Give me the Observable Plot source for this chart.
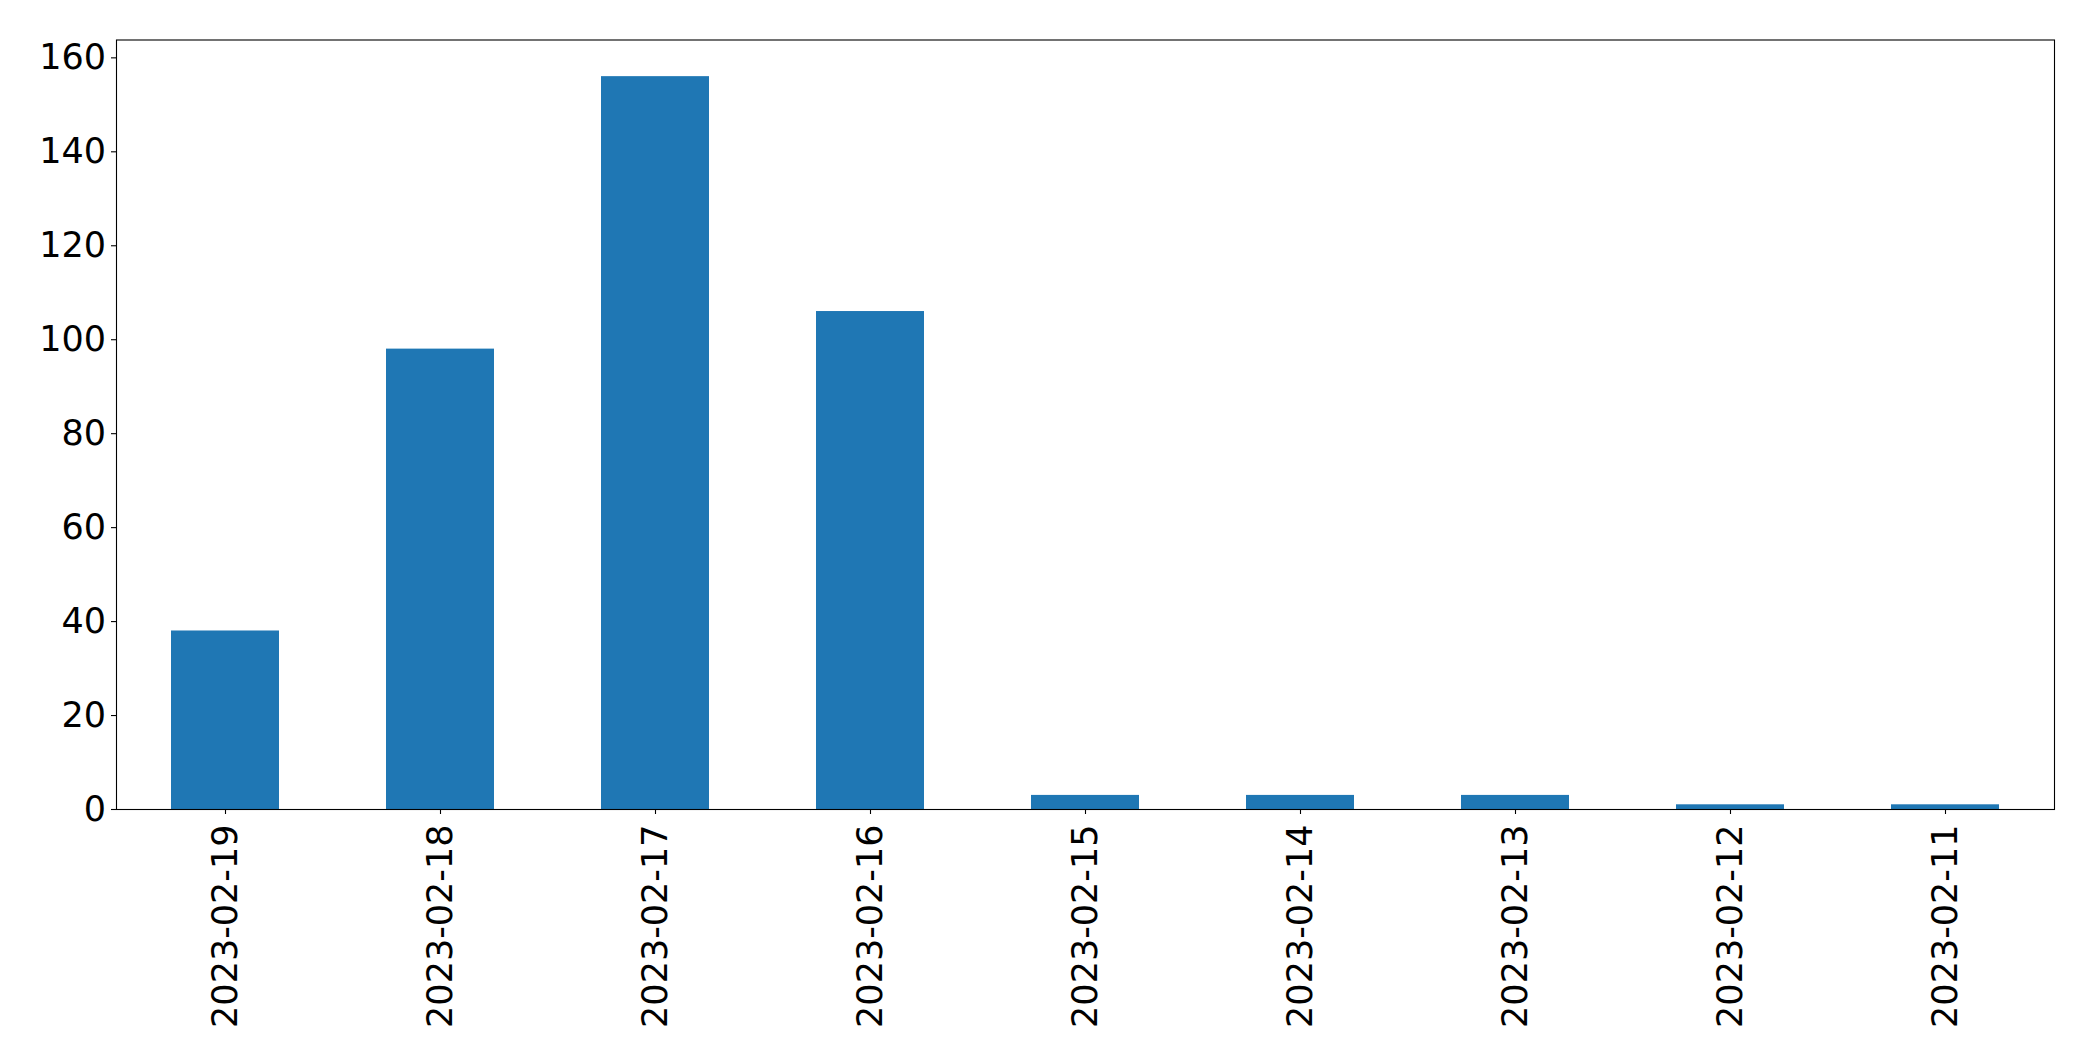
<!DOCTYPE html>
<html>
<head>
<meta charset="utf-8">
<script src="https://cdn.jsdelivr.net/npm/d3@7"></script>
<script src="https://cdn.jsdelivr.net/npm/@observablehq/plot@0.6"></script>
<style>
  html, body { margin: 0; padding: 0; background: #fff; }
  #chart svg { display: block; }
</style>
</head>
<body>
<div id="chart"></div>
<script>
const dates = ["2023-02-19", "2023-02-18", "2023-02-17", "2023-02-16", "2023-02-15", "2023-02-14", "2023-02-13", "2023-02-12", "2023-02-11"];
const counts = [38, 98, 156, 106, 3, 3, 3, 1, 1];
const yTicks = [0, 20, 40, 60, 80, 100, 120, 140, 160];

const data = dates.map((d, i) => ({date: d, count: counts[i]}));

const chart = Plot.plot({
  width: 2093,
  height: 1061,
  marginLeft: 116,
  marginRight: 39,
  marginTop: 39.5,
  marginBottom: 252,
  style: {fontFamily: "'DejaVu Sans', sans-serif", fontSize: "35px", color: "black", background: "white"},
  x: {domain: dates, paddingInner: 0.5, paddingOuter: 0.25, label: null},
  y: {domain: [0, 163.8], label: null},
  marks: [
    Plot.barY(data, {x: "date", y: "count", fill: "#1f77b4"}),
    Plot.frame({stroke: "black", strokeWidth: 1.1}),
    Plot.axisY({ticks: yTicks, tickSize: 5, tickPadding: 5.5, fontSize: 35, label: null, stroke: "black", strokeWidth: 1.1}),
    Plot.axisX({tickSize: 5, tickPadding: 10, tickRotate: -90, textAnchor: "end", lineAnchor: "middle", fontSize: 35, label: null, stroke: "black", strokeWidth: 1.1})
  ]
});
document.getElementById("chart").appendChild(chart);
</script>
</body>
</html>
